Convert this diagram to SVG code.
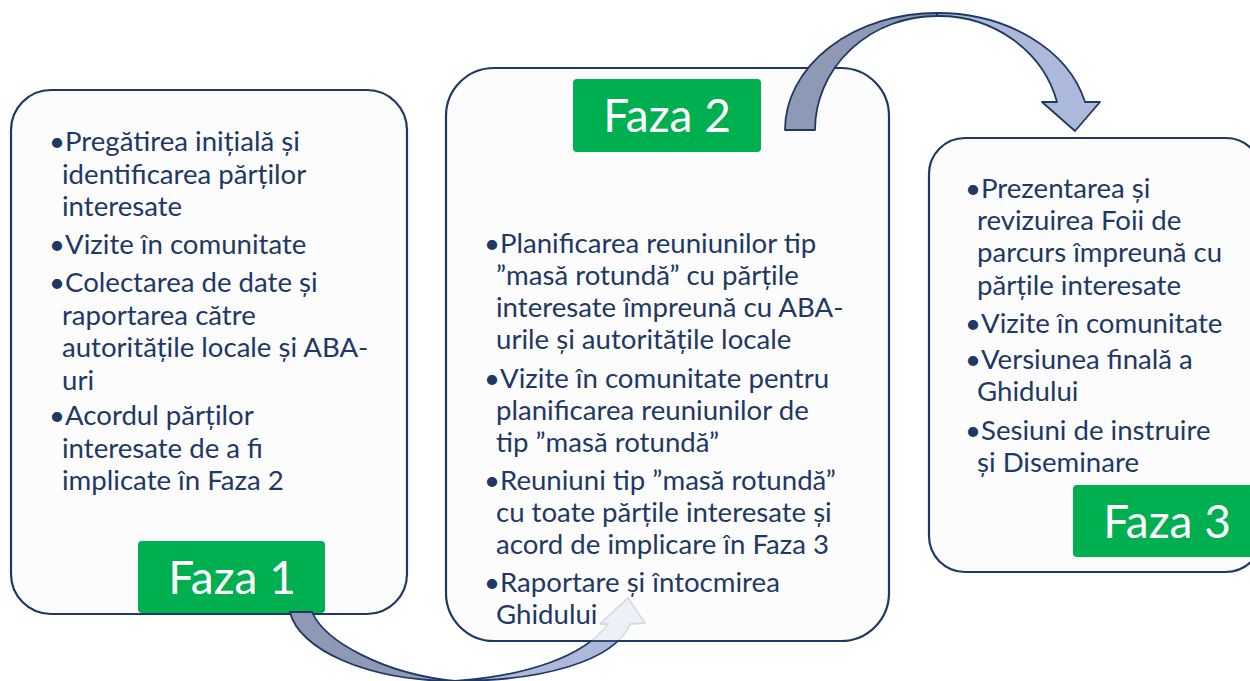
<svg xmlns="http://www.w3.org/2000/svg" width="1250" height="681" viewBox="0 0 1250 681">
<style>
.box{fill:#fcfcfd;stroke:#1f3864;stroke-width:2.2}
.tag{fill:#00b050}
.lbl{font-family:Lato,"Open Sans",sans-serif;font-size:46px;fill:#ffffff;text-anchor:middle}
.t{font-family:Lato,"Open Sans",sans-serif;font-size:27.6px;fill:#1f3864}
.dk{fill:#8e9ab5;stroke:#1f3864;stroke-width:1.8;stroke-linejoin:round}
.lt{fill:#adb9da;stroke:#1f3864;stroke-width:1.8;stroke-linejoin:round}
</style>
<defs>
<mask id="fade2" maskUnits="userSpaceOnUse" x="0" y="0" width="1250" height="681">
<rect x="0" y="0" width="1250" height="681" fill="#ffffff"/>
<rect x="445" y="67" width="445" height="575" rx="48" fill="#2a2a2a"/>
</mask>
</defs>
<rect x="0" y="0" width="1250" height="681" fill="#ffffff"/>

<g id="faza1">
<rect class="box" x="11" y="90" width="396" height="524" rx="40"/>
<text class="t"><tspan x="49" y="151">•Pregătirea inițială și</tspan><tspan x="62" y="183.5">identificarea părților</tspan><tspan x="62" y="216">interesate</tspan><tspan x="49" y="254">•Vizite în comunitate</tspan><tspan x="49" y="292">•Colectarea de date și</tspan><tspan x="62" y="325">raportarea către</tspan><tspan x="62" y="357">autoritățile locale și ABA-</tspan><tspan x="62" y="390">uri</tspan><tspan x="49" y="425">•Acordul părților</tspan><tspan x="62" y="457.5">interesate de a fi</tspan><tspan x="62" y="490">implicate în Faza 2</tspan></text>
<rect class="tag" x="138" y="541" width="187" height="72" rx="4"/>
<text class="lbl" x="232" y="594">Faza 1</text>
</g>

<g id="faza2">
<rect class="box" x="446" y="68" width="443" height="573" rx="48"/>
<rect class="tag" x="573" y="79" width="188" height="73" rx="4"/>
<text class="lbl" x="667" y="132">Faza 2</text>
<text class="t"><tspan x="484" y="253">•Planificarea reuniunilor tip</tspan><tspan x="496" y="285">”masă rotundă” cu părțile</tspan><tspan x="496" y="317">interesate împreună cu ABA-</tspan><tspan x="496" y="349">urile și autoritățile locale</tspan><tspan x="484" y="388">•Vizite în comunitate pentru</tspan><tspan x="496" y="420">planificarea reuniunilor de</tspan><tspan x="496" y="452">tip ”masă rotundă”</tspan><tspan x="484" y="490">•Reuniuni tip ”masă rotundă”</tspan><tspan x="496" y="522">cu toate părțile interesate și</tspan><tspan x="496" y="554">acord de implicare în Faza 3</tspan><tspan x="484" y="592">•Raportare și întocmirea</tspan><tspan x="496" y="624">Ghidului</tspan></text>
</g>

<g id="faza3">
<rect class="box" x="929" y="138" width="333" height="434" rx="36"/>
<text class="t"><tspan x="965" y="198">•Prezentarea și</tspan><tspan x="977" y="230">revizuirea Foii de</tspan><tspan x="977" y="262">parcurs împreună cu</tspan><tspan x="977" y="295">părțile interesate</tspan><tspan x="965" y="333">•Vizite în comunitate</tspan><tspan x="965" y="369">•Versiunea finală a</tspan><tspan x="977" y="401">Ghidului</tspan><tspan x="965" y="440">•Sesiuni de instruire</tspan><tspan x="977" y="472">și Diseminare</tspan></text>
<rect class="tag" x="1073" y="485" width="190" height="72" rx="4"/>
<text class="lbl" x="1167" y="538">Faza 3</text>
</g>

<g id="connectors">
<g id="arrow-1-2" mask="url(#fade2)">
<path class="dk" d="M290,612 C298,648 365,681 455,681 C385,674 325,642 312,612 Z"/>
<path class="lt" d="M455,681 C540,681 614,662 630,624 L645,623 L628,598 L600,624 L608,624 C584,657 525,676 455,681 Z"/>
</g>
<g id="arrow-2-3">
<path class="dk" d="M785,130 A152,117 0 0 1 937,13 L937,16 A122,114 0 0 0 815,130 Z"/>
<path class="lt" d="M937,13 A152,117 0 0 1 1085,102 L1100,102 L1075,131 L1042,102 L1057,102 A122,114 0 0 0 937,16 Z"/>
</g>
</g>
</svg>
